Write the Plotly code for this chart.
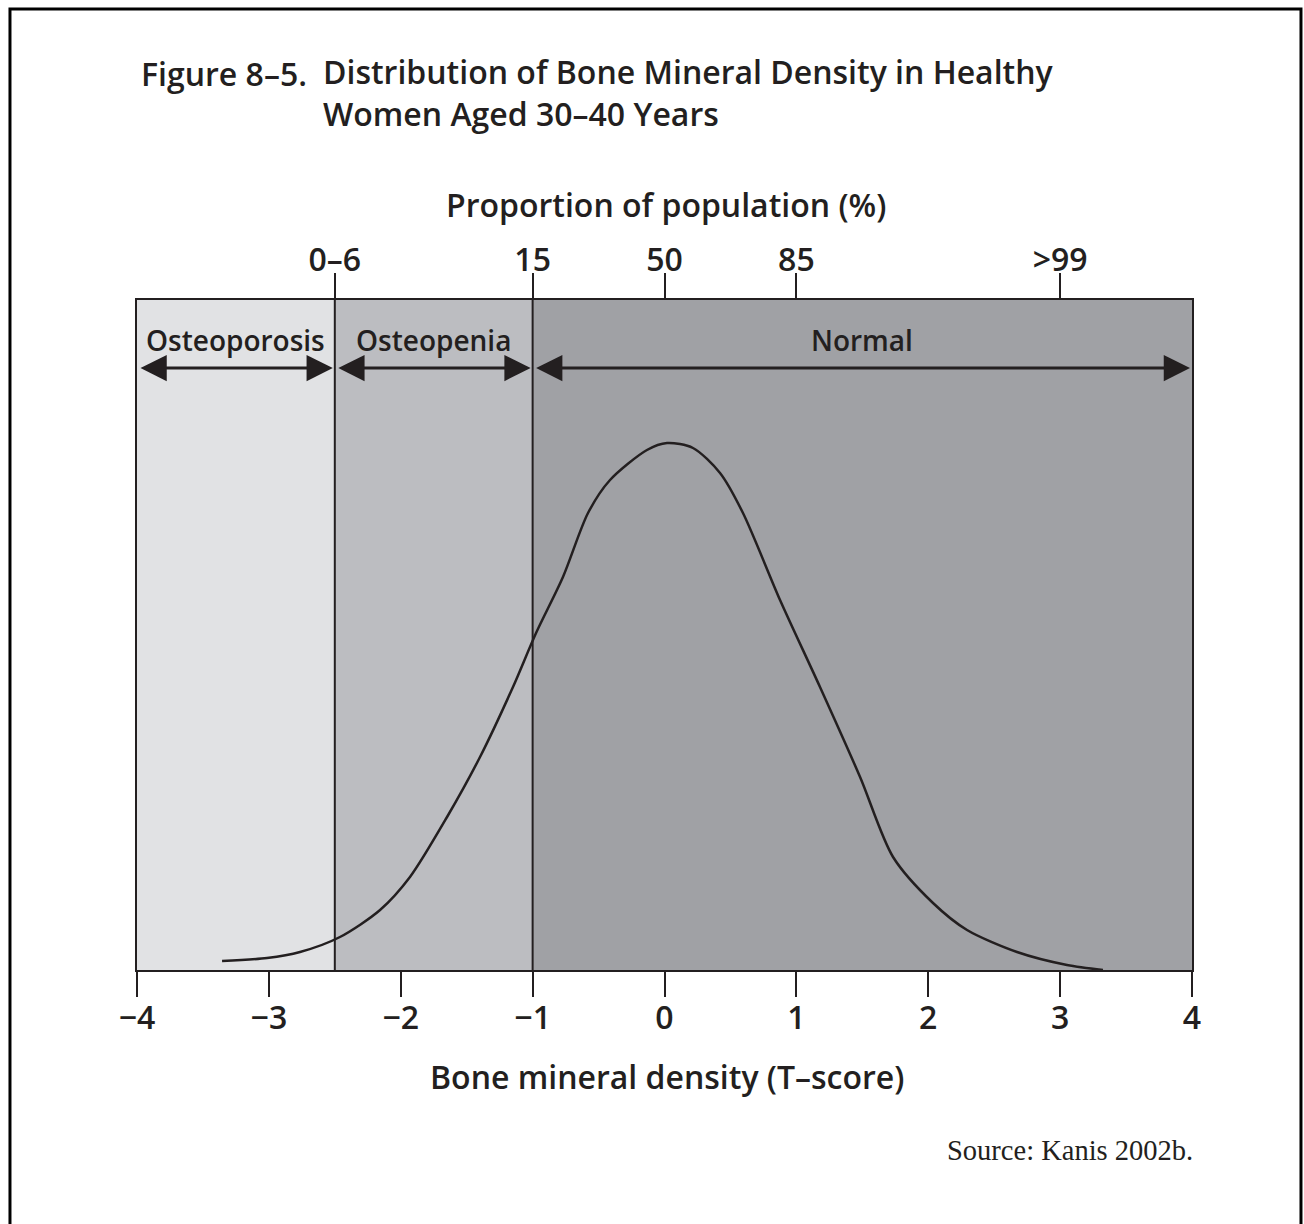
import plotly.graph_objects as go

# T-score distribution curve (relative height, arbitrary units)
t_score = [-3.355, -3.014, -2.764, -2.461, -2.157, -1.930, -1.649, -1.399, -1.149,
           -0.974, -0.770, -0.580, -0.413, -0.133, 0.019, 0.216, 0.421, 0.595,
           0.876, 1.179, 1.483, 1.733, 2.036, 2.294, 2.673, 3.052, 3.325]
density = [9, 12, 18, 33, 60, 93, 153, 213, 283,
           337, 393, 457, 490, 520, 527, 522, 497, 457,
           370, 283, 193, 113, 67, 40, 18, 5, 0]

# Diagnostic zones
zone_edges = [-4, -2.5, -1, 4]
zone_names = ["Osteoporosis", "Osteopenia", "Normal"]
zone_colors = ["#e1e2e4", "#bcbdc1", "#a0a1a5"]

# Bottom axis (T-score)
bottom_ticks = [-4, -3, -2, -1, 0, 1, 2, 3, 4]
bottom_labels = ["\u22124", "\u22123", "\u22122", "\u22121", "0", "1", "2", "3", "4"]

# Top axis (proportion of population, %)
top_ticks = [-2.5, -1, 0, 1, 3]
top_labels = ["0\u20136", "15", "50", "85", ">99"]

Y_MAX = 670
INK = "#231f20"
SANS = "Open Sans"

fig = go.Figure()

fig.add_trace(go.Scatter(
    x=t_score, y=density, mode="lines",
    line=dict(color=INK, width=2.5, shape="spline", smoothing=0.8),
    hoverinfo="skip", showlegend=False,
))
# carries the top axis
fig.add_trace(go.Scatter(
    x=top_ticks, y=[0] * len(top_ticks), xaxis="x2", mode="markers",
    marker=dict(opacity=0), hoverinfo="skip", showlegend=False,
))

shapes = []
annotations = []
for i, name in enumerate(zone_names):
    x0, x1 = zone_edges[i], zone_edges[i + 1]
    shapes.append(dict(type="rect", xref="x", yref="y", x0=x0, x1=x1, y0=0, y1=Y_MAX,
                       fillcolor=zone_colors[i], line=dict(width=0), layer="below"))
    annotations.append(dict(x=(x0 + x1) / 2, y=630, xref="x", yref="y", text=name,
                            showarrow=False, font=dict(family=SANS, size=28, color=INK,
                                                       weight=600)))
    annotations.append(dict(x=x1, y=602, ax=x0, ay=602, xref="x", yref="y",
                            axref="x", ayref="y", text="", showarrow=True,
                            arrowhead=2, startarrowhead=2, arrowside="end+start",
                            arrowsize=1.75, startarrowsize=1.75, arrowwidth=3,
                            arrowcolor=INK, standoff=2, startstandoff=2))

# zone boundaries
for e in zone_edges[1:-1]:
    shapes.append(dict(type="line", xref="x", yref="y", x0=e, x1=e, y0=0, y1=Y_MAX,
                       line=dict(color=INK, width=2), layer="above"))

# page frame
shapes.append(dict(type="rect", xref="paper", yref="paper", x0=-0.1204, x1=1.1033,
                   y0=-0.40, y1=1.4343, line=dict(color="#000000", width=3),
                   fillcolor="rgba(0,0,0,0)", layer="above"))

title_font = dict(family=SANS, size=32, color=INK, weight=600)
annotations += [
    dict(x=139, y=1224 - 73, xref="paper", yref="paper", text="Figure 8\u20135.",
         showarrow=False, xanchor="left", yanchor="middle", font=title_font),
    dict(x=321, y=1224 - 93, xref="paper", yref="paper",
         text="Distribution of Bone Mineral Density in Healthy<br>Women Aged 30\u201340 Years",
         showarrow=False, xanchor="left", yanchor="middle", align="left",
         font=title_font),
    dict(x=666, y=1224 - 205, xref="paper", yref="paper",
         text="Proportion of population (%)", showarrow=False, yanchor="middle",
         font=title_font),
    dict(x=667, y=1224 - 1076, xref="paper", yref="paper",
         text="Bone mineral density (T\u2013score)", showarrow=False, yanchor="middle",
         font=title_font),
    dict(x=1195, y=1224 - 1150, xref="paper", yref="paper", text="Source: Kanis 2002b.",
         showarrow=False, xanchor="right", yanchor="middle",
         font=dict(family="Liberation Serif", size=28.5, color=INK)),
]

# convert pixel-placed annotations into paper coordinates
L, R, T, B = 137, 112, 300, 254
W, H = 1304, 1224
for a in annotations[-5:]:
    a["x"] = (a["x"] - L) / (W - L - R)
    a["y"] = (a["y"] - B) / (H - T - B)

tick_font = dict(family=SANS, size=32, color=INK, weight=600)
fig.update_layout(
    width=W, height=H,
    margin=dict(l=L, r=R, t=T, b=B, pad=0),
    paper_bgcolor="white", plot_bgcolor="white",
    shapes=shapes, annotations=annotations,
    xaxis=dict(range=[-4, 4], tickmode="array", tickvals=bottom_ticks, ticktext=bottom_labels,
               ticks="outside", ticklen=25, tickwidth=2, tickcolor=INK,
               showline=True, linecolor=INK, linewidth=2, showgrid=False, zeroline=False,
               tickfont=tick_font, ticklabelstandoff=-6, fixedrange=True),
    xaxis2=dict(range=[-4, 4], overlaying="x", side="top", anchor="y", tickmode="array",
                tickvals=top_ticks, ticktext=top_labels, ticks="outside", ticklen=25,
                tickwidth=2, tickcolor=INK, showline=True, linecolor=INK, linewidth=2,
                showgrid=False, zeroline=False, tickfont=tick_font,
                ticklabelstandoff=-11, fixedrange=True),
    yaxis=dict(range=[0, Y_MAX], showline=True, mirror=True, linecolor=INK, linewidth=2,
               showticklabels=False, ticks="", showgrid=False, zeroline=False,
               fixedrange=True),
)

fig.write_html("out.html")
